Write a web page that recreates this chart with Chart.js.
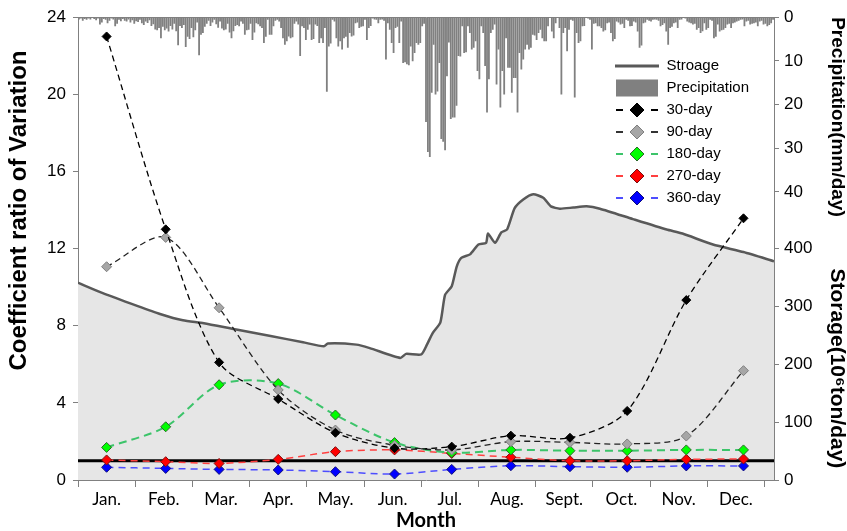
<!DOCTYPE html>
<html lang="en">
<head>
<meta charset="UTF-8">
<title>Coefficient ratio of Variation by Month</title>
<script src="https://cdn.jsdelivr.net/npm/chart.js"></script>
<style>
  body { margin: 0; background: #fff; }
  #wrap { width: 847px; height: 531px; }
</style>
</head>
<body>
<div id="wrap"><canvas id="cvChart" width="847" height="531"></canvas></div>
<script>
// x axis is day of year; month ticks every 30 days, labels in between
const months = ['Jan.', 'Feb.', 'Mar.', 'Apr.', 'May.', 'Jun.', 'Jul.', 'Aug.', 'Sept.', 'Oct.', 'Nov.', 'Dec.'];
const tickDays = [0, 30, 60, 90, 120, 150, 180, 210, 240, 270, 300, 330, 360];
const labelDays = [15, 45, 75, 105, 135, 165, 195, 225, 255, 285, 315, 345];
const dayMax = 365;

// coefficient ratio of variation, one point per month
const markerDays = [15, 46, 74, 105, 135, 166, 196, 227, 258, 288, 319, 349];
const cv30  = [23.0, 13.0, 6.1, 4.2, 2.45, 1.65, 1.73, 2.3, 2.19, 3.58, 9.33, 13.57];
const cv90  = [11.06, 12.58, 8.93, 4.67, 2.59, 1.8, 1.56, 1.99, 1.95, 1.87, 2.28, 5.67];
const cv180 = [1.69, 2.76, 4.94, 5.0, 3.37, 1.94, 1.42, 1.56, 1.52, 1.52, 1.56, 1.56];
const cv270 = [1.04, 0.95, 0.86, 1.07, 1.47, 1.56, 1.38, 1.18, 1.0, 1.0, 1.07, 1.09];
const cv360 = [0.66, 0.6, 0.55, 0.52, 0.43, 0.31, 0.55, 0.74, 0.69, 0.66, 0.73, 0.73];
const threshold = 1;

// storage (10^6 ton/day)
const storageDays = [0, 13, 31, 43, 55, 66, 83, 101, 118, 129, 131, 146, 153, 169, 172, 180, 183, 186, 190,
  192.5, 196, 198.6, 201, 205.6, 210, 214, 215, 218.7, 222, 225, 229, 233.5, 238.7, 244, 248, 252.7,
  259.7, 266.7, 273.7, 291, 308.7, 317, 333, 349, 365];
const storage = [341, 323, 301, 287, 276, 271, 260, 249, 238, 231, 236, 234, 228, 211, 218, 217, 234, 254, 272,
  320, 335, 369, 384, 390, 407, 410, 426, 410, 428, 433, 470, 485, 494, 488, 473, 469,
  471, 473, 469, 451, 433, 426, 407, 394, 378];

// daily precipitation (mm/day), day 0..364
const precip = [
  0.5, 0.3, 0.8, 0.4, 0.6, 0.3, 0.5, 0.2, 0.4, 0.7, 0.3,
  1.7, 1.2, 0.4, 0.6, 1.4, 0.8, 0.3, 0.5, 2.1, 1.5,
  0.6, 0.9, 0.4, 0.8, 1.0, 0.5, 1.2, 0.7, 1.5, 0.9,
  1.1, 0.6, 1.4, 1.8, 1.0, 1.3, 0.7, 2.0, 1.6, 2.8,
  3.0, 2.5, 4.8, 2.2, 3.0, 2.6, 3.3, 2.0, 2.8, 1.5,
  3.2, 6.4, 2.0, 2.5, 1.8, 6.8, 4.5, 5.0, 2.5, 4.6,
  3.0, 1.2, 8.7, 4.0, 3.6, 2.2, 1.5, 0.8, 2.0, 1.2,
  0.6, 1.6, 2.4, 1.0, 2.6, 3.0, 2.8, 1.5, 3.5, 4.8,
  3.2, 2.0, 1.8, 2.1, 1.0, 1.5, 4.0, 3.0, 2.9, 1.5,
  5.2, 3.5, 1.4, 1.6, 2.1, 2.5, 5.9, 4.5, 0.6, 4.0,
  4.0, 2.1, 0.8, 0.6, 1.0, 2.5, 4.8, 6.3, 5.5, 4.4,
  4.8, 4.6, 1.5, 1.0, 1.7, 8.9, 2.1, 2.5, 5.2, 2.9,
  1.7, 5.2, 5.0, 1.7, 2.0, 5.9, 4.8, 5.9, 2.5, 17.1,
  6.7, 6.0, 0.6, 1.0, 4.8, 6.7, 5.5, 7.4, 4.8, 4.5,
  7.0, 3.6, 4.4, 4.2, 1.4, 1.2, 2.5, 2.2, 2.1, 0.6,
  5.2, 2.5, 2.0, 0.3, 0.5, 0.6, 1.4, 0.6, 0.5, 0.8,
  9.7, 1.4, 2.9, 5.9, 8.2, 2.5, 2.2, 5.9, 1.0, 10.5,
  10.3, 10.8, 11.0, 6.7, 10.1, 8.2, 5.9, 6.3, 5.9, 2.1,
  1.5, 24.0, 30.9, 32.0, 17.3, 6.3, 17.7, 17.0, 10.5, 27.9,
  28.5, 30.5, 13.5, 5.8, 23.3, 23.0, 23.0, 20.3, 8.9, 9.0,
  2.1, 8.2, 8.0, 2.1, 3.6, 7.4, 7.0, 5.5, 12.3, 14.2,
  2.1, 3.6, 11.2, 21.8, 14.2, 3.6, 2.9, 1.7, 15.4, 7.4,
  20.7, 12.3, 17.7, 4.8, 11.6, 11.6, 17.3, 13.9, 13.9, 21.8,
  8.2, 12.0, 9.7, 7.4, 6.3, 7.4, 7.0, 4.0, 4.2, 5.2,
  3.6, 2.9, 4.8, 5.5, 5.5, 2.1, 0.2, 3.3, 4.8, 1.4,
  0.2, 2.5, 17.7, 3.6, 2.5, 7.8, 2.9, 0.6, 0.8, 18.4,
  3.6, 5.9, 5.5, 2.1, 2.0, 0.2, 0.3, 0.6, 7.4, 1.5,
  1.4, 2.1, 2.1, 2.5, 3.3, 3.0, 1.4, 1.2, 3.6, 5.5,
  5.0, 1.0, 1.2, 1.7, 1.5, 2.5, 0.6, 0.8, 2.1, 2.0,
  1.0, 1.2, 3.3, 7.0, 6.5, 1.4, 1.2, 0.6, 0.8, 1.0,
  0.6, 0.5, 0.6, 0.8, 2.1, 1.8, 1.4, 3.3, 6.3, 2.5,
  2.2, 1.4, 1.2, 2.5, 0.6, 0.5, 0.2, 0.3, 1.0, 1.2,
  1.4, 1.7, 1.5, 2.9, 2.5, 3.6, 3.2, 1.4, 2.9, 2.5,
  0.6, 0.8, 4.8, 4.5, 1.7, 3.3, 3.0, 2.9, 2.5, 1.7,
  1.5, 2.5, 1.4, 1.2, 1.0, 0.8, 0.6, 0.5, 2.1, 1.0,
  0.8, 1.7, 1.5, 1.4, 1.2, 2.1, 1.0, 0.8, 1.7, 1.5,
  2.1, 1.8, 1.4, 0.6
];

const precipTickMax = 40;
const storageTickMax = 400;

const toPoints = (xs, ys) => xs.map((x, i) => ({ x: x, y: ys[i] }));

Chart.defaults.font.family = "'Liberation Sans', Arial, sans-serif";
Chart.defaults.color = '#000';

// little canvases used as legend symbols
function symbol(draw) {
  const c = document.createElement('canvas');
  c.width = 44; c.height = 18;
  draw(c.getContext('2d'));
  return c;
}
function lineMarker(lineColor, fill, edge) {
  return symbol(g => {
    g.strokeStyle = lineColor; g.lineWidth = 2;
    g.beginPath(); g.moveTo(1, 9); g.lineTo(8, 9); g.moveTo(36, 9); g.lineTo(43, 9); g.stroke();
    g.beginPath(); g.moveTo(22, 2); g.lineTo(29, 9); g.lineTo(22, 16); g.lineTo(15, 9); g.closePath();
    g.fillStyle = fill; g.fill();
    g.lineWidth = 1; g.strokeStyle = edge; g.stroke();
  });
}
const legendItems = [
  { text: 'Stroage', pointStyle: symbol(g => { g.strokeStyle = '#595959'; g.lineWidth = 3; g.beginPath(); g.moveTo(0, 9); g.lineTo(44, 9); g.stroke(); }) },
  { text: 'Precipitation', pointStyle: symbol(g => { g.fillStyle = '#808080'; g.fillRect(1, 0.5, 42, 17); }) },
  { text: '30-day', pointStyle: lineMarker('#000', '#000', '#000') },
  { text: '90-day', pointStyle: lineMarker('#333', '#a6a6a6', '#7f7f7f') },
  { text: '180-day', pointStyle: lineMarker('#3cc46a', '#00ff00', '#2a6a2a') },
  { text: '270-day', pointStyle: lineMarker('#ff4040', '#ff0000', '#7a1010') },
  { text: '360-day', pointStyle: lineMarker('#4d4dff', '#0000ff', '#10107a') }
].map((it, i) => Object.assign(it, { fontColor: '#000', hidden: false, lineWidth: 0, datasetIndex: i }));

// the right axes share one column; legend sits inside the plot at the top right
const placeBoxes = {
  id: 'placeBoxes',
  afterLayout(chart) {
    const s = chart.scales.yS;
    for (const id of ['yP', 'yPT']) {
      const p = chart.scales[id];
      p.left = s.left; p.right = s.right; p.width = s.width;
    }
    const lg = chart.legend;
    lg.left = 608; lg.top = 51.5;
    lg.right = lg.left + lg.width; lg.bottom = lg.top + lg.height;
  }
};

function cvLine(label, data, color, fill, edge, dash, width, radius) {
  return {
    type: 'line', label: label, data: toPoints(markerDays, data),
    xAxisID: 'xT', yAxisID: 'yL',
    borderColor: color, borderWidth: width, borderDash: dash, tension: 0.3, fill: false,
    pointStyle: 'rectRot', pointRadius: radius, pointBackgroundColor: fill,
    pointBorderColor: edge, pointBorderWidth: 1
  };
}

const axisGray = '#808080';

new Chart(document.getElementById('cvChart'), {
  type: 'line',
  data: {
    datasets: [
      cvLine('30-day', cv30, '#000', '#000', '#000', [6, 4], 1.3, 4.5),
      cvLine('90-day', cv90, '#222', '#a6a6a6', '#7f7f7f', [6, 4], 1.3, 5),
      cvLine('180-day', cv180, '#3cc46a', '#00ff00', '#2a6a2a', [8, 5], 2, 5),
      cvLine('270-day', cv270, '#ff4040', '#ff0000', '#7a1010', [7, 5], 1.5, 5),
      cvLine('360-day', cv360, '#4d4dff', '#0000ff', '#10107a', [7, 5], 1.5, 5),
      {
        type: 'line', label: 'threshold',
        data: [{ x: 0, y: threshold }, { x: dayMax, y: threshold }],
        xAxisID: 'xT', yAxisID: 'yL', borderColor: '#000', borderWidth: 3, pointRadius: 0
      },
      {
        type: 'bar', label: 'Precipitation',
        data: precip.map((v, i) => ({ x: i + 0.5, y: v })),
        xAxisID: 'xT', yAxisID: 'yP', backgroundColor: '#808080',
        barPercentage: 0.95, categoryPercentage: 1
      },
      {
        type: 'line', label: 'Stroage', data: toPoints(storageDays, storage),
        xAxisID: 'xT', yAxisID: 'yS', borderColor: '#595959', borderWidth: 2.5,
        backgroundColor: '#e6e6e6', fill: 'origin', pointRadius: 0, tension: 0.2
      }
    ]
  },
  options: {
    responsive: false,
    animation: false,
    devicePixelRatio: 1,
    layout: { padding: { top: 17 } },
    plugins: {
      tooltip: { enabled: false },
      legend: {
        position: 'chartArea',
        align: 'start',
        labels: {
          usePointStyle: true,
          pointStyleWidth: 44,
          padding: 7,
          font: { size: 15 },
          generateLabels: () => legendItems
        }
      }
    },
    scales: {
      xTop: {
        type: 'linear', position: 'top', min: 0, max: dayMax,
        ticks: { display: false }, grid: { display: false },
        border: { color: axisGray },
        afterFit: s => { s.height = 0; }
      },
      xT: {
        type: 'linear', position: 'bottom', min: 0, max: dayMax, weight: 0, offset: false,
        afterBuildTicks: s => { s.ticks = tickDays.map(v => ({ value: v })); },
        ticks: { display: false },
        grid: { drawOnChartArea: false, tickLength: 7, color: axisGray, offset: false },
        border: { color: axisGray },
        afterFit: s => { s.height = 7; }
      },
      xL: {
        type: 'linear', position: 'bottom', min: 0, max: dayMax, weight: 1, offset: false,
        afterBuildTicks: s => { s.ticks = labelDays.map(v => ({ value: v })); },
        ticks: {
          autoSkip: false, maxRotation: 0, padding: 2,
          font: { family: 'Lato', size: 17 },
          callback: (v, i) => months[i]
        },
        grid: { display: false, drawTicks: false },
        border: { display: false },
        title: { display: true, text: 'Month', font: { family: 'Lato', size: 20, weight: 'bold' }, padding: { top: 0, bottom: -2 } },
        afterFit: s => { s.height = 44; }
      },
      yL: {
        type: 'linear', position: 'left', min: 0, max: 24,
        ticks: { stepSize: 4, padding: 7, font: { size: 17 } },
        grid: { drawOnChartArea: false, tickLength: 5, color: axisGray },
        border: { color: axisGray },
        // trailing spaces keep the title a little below the top, as in the original
        title: { display: true, text: 'Coefficient ratio of Variation     ', align: 'end', font: { size: 24, weight: 'bold' }, padding: { top: 5 } },
        afterFit: s => { s.width = 78; }
      },
      yS: {
        type: 'linear', position: 'right', weight: 0, min: 0, max: 800,
        ticks: { stepSize: 100, padding: 5, font: { size: 17 } },
        afterBuildTicks: s => { s.ticks = s.ticks.filter(t => t.value <= storageTickMax); },
        grid: { drawOnChartArea: false, tickLength: 5, color: axisGray },
        border: { color: axisGray },
        title: { display: true, text: 'Storage(10\u2076ton/day)  ', align: 'start', font: { size: 21, weight: 'bold' }, padding: { top: -2 } },
        afterFit: s => { s.width = 73; }
      },
      yP: {
        type: 'linear', position: 'right', weight: 1, min: 0, max: 106, reverse: true,
        ticks: { stepSize: 10, padding: 5, font: { size: 17 } },
        afterBuildTicks: s => { s.ticks = s.ticks.filter(t => t.value <= precipTickMax); },
        grid: { drawOnChartArea: false, tickLength: 5, color: axisGray },
        border: { color: axisGray },
        afterFit: s => { s.width = 0; }
      },
      yPT: {
        type: 'linear', position: 'right', weight: 2, min: 0, max: 1,
        ticks: { display: false },
        grid: { display: false, drawTicks: false },
        border: { display: false },
        title: { display: true, text: 'Precipitation(mm/day)', align: 'end', font: { size: 19, weight: 'bold' }, padding: { top: -2 } },
        afterFit: s => { s.width = 0; }
      }
    }
  },
  plugins: [placeBoxes]
});
</script>
</body>
</html>
